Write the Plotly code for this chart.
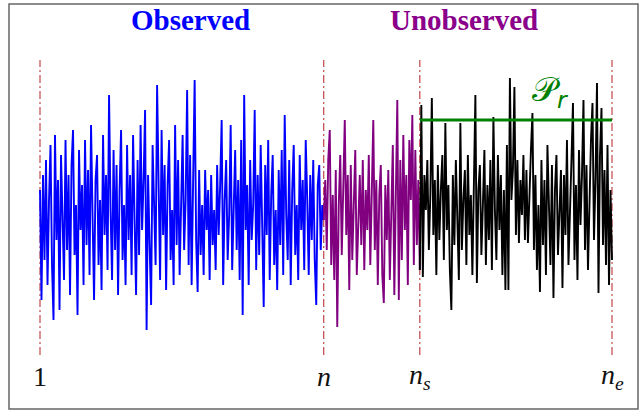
import plotly.graph_objects as go

# ---- data (arbitrary units) ----
blue = [
    0.6, -1.6, 0.9, -0.8, 1.2, -1.3, 0.4, 1.5, -0.9, -2.0,
    1.7, -0.4, 0.8, -1.8, 1.3, 0.2, -1.2, 1.6, -0.6, 0.9,
    -1.5, 1.1, 1.8, -0.7, 0.3, -1.9, 1.4, -0.2, 0.7, -1.3,
    1.6, -0.5, 1.0, -1.1, 1.9, 0.1, -1.6, 0.8, 1.3, -0.9,
    0.4, -1.4, 1.7, -0.3, 0.9, -1.0, 2.5, 0.2, -1.2, 1.4,
    -0.6, 1.1, -1.5, 0.6, 1.8, -0.8, 0.3, -1.3, 1.5, -0.4,
    0.9, -1.1, 1.7, 0.0, -1.5, 1.2, -0.7, 1.9, -0.2, 0.8,
    2.2, -2.2, 0.9, -0.5, -1.7, 1.5, 0.3, -0.9, 2.7, 0.6,
    -1.2, 1.8, -0.3, 1.1, -1.4, 0.7, 1.6, -0.8, 0.2, -1.3,
    1.9, -0.5, 1.2, -1.1, 0.6, 1.7, -0.6, 0.4, 2.6, -0.9,
    1.3, -1.3, 0.8, 2.8, -0.4, -1.44, 1.0, -0.7, 0.3, -1.1,
    1.0, -0.2, 0.6, -1.2, 0.9, -0.5, 0.2, -1.0, 1.1, -0.3,
    0.7, 2.0, -1.3, 0.4, 1.2, -0.8, 0.1, 1.9, -1.0, 0.5,
    1.4, -0.6, 0.8, -1.2, 1.6, -1.9, 2.5, -0.2, 0.7, -1.3,
    1.2, -0.4, 0.3, 2.2, -1.0, 0.9, -0.7, 1.5, 0.0, -1.74,
    1.1, -0.3, 1.6, -1.2, 0.5, 1.3, -0.9, 0.2, -1.4, 1.0,
    -0.5, 1.4, -1.1, 2.1, 0.1, -0.8, 1.2, -1.3, 0.6, 1.5,
    -0.7, 0.3, -1.2, 1.3, -0.2, 0.8, -1.0, 1.6, 0.4, -1.1,
    0.9, -0.4, 1.2, -0.8, -1.7, 0.7, 1.1, -0.6, 0.3, 0.0,
]
purple = [
    0.8, -0.6, 1.2, 1.8, -0.9, 0.5, -1.2, 1.0, -2.14, 0.3,
    1.3, -0.7, 0.6, 2.0, -0.3, 0.9, -1.4, 1.1, -0.8, 0.4,
    1.4, -1.1, 0.2, 0.9, -0.5, 1.2, -1.0, 0.6, -0.2, 1.3,
    -0.9, 0.4, 2.0, -0.6, 0.8, -1.3, 0.5, 1.1, -1.1, -1.66,
    0.7, -0.4, 1.0, -1.2, 0.3, 1.5, -1.5, 0.6, 2.4, -1.6,
    1.2, -0.8, 1.7, -0.2, 0.9, -1.3, 1.6, 0.4, 2.1, -0.9,
    1.4, -0.5, 0.8, -1.0,
]
black = [
    2.3, -1.14, 0.9, 0.2, 1.2, -0.6, 0.5, 2.44, -0.3, 0.8,
    -1.1, 1.1, -0.4, 0.6, 1.3, -0.8, 1.94, -0.2, 0.7, -1.0,
    -1.8, 0.9, -0.5, 1.2, 0.1, -1.2, 1.94, -0.6, 0.4, 1.0,
    -0.9, 1.3, -0.3, 0.5, -1.1, 0.8, 2.5, -1.26, 0.6, 1.1,
    -0.7, 0.3, 1.4, -0.9, 0.7, -0.4, 1.2, -1.0, 2.06, 0.2,
    -0.8, 1.3, -0.2, 0.9, -1.1, 0.6, -1.4, 1.5, -1.4, 2.84,
    0.4, 1.0, 2.66, -0.3, 1.2, -0.46, 0.8, 0.1, 1.3, -0.4,
    1.0, -0.46, 0.7, 1.4, 2.14, -0.6, 0.9, -1.0, 0.3, -1.44,
    1.2, -0.5, 0.8, -1.1, 1.5, 0.0, -0.9, 1.1, -1.56, 0.6,
    1.3, -0.7, 0.4, 1.0, -1.36, 0.9, -0.3, 1.6, -0.9, 0.5,
    1.2, 2.34, -0.8, 0.7, -1.2, 1.4, -0.1, 0.9, 2.4, -0.6,
    1.1, -1.0, 0.5, 1.6, 2.34, -0.4, 0.8, 2.74, -1.46, 1.3,
    2.24, -0.5, 1.0, -0.9, 1.5, -1.3, 0.6, -0.8,
]
tick_labels = ["1", "<i>n</i>", "<i>n<sub>s</sub></i>", "<i>n<sub>e</sub></i>"]
titles = ["Observed", "Unobserved"]
pr_level = 2.0
pr_label = "𝒫<sub><i>r</i></sub>"

# ---- indices ----
n = len(blue)
ns = n + len(purple)
ne = ns + len(black)
xb = list(range(1, n + 1))
xp = list(range(n, ns + 1))
yp = [blue[-1]] + purple
xk = list(range(ns, ne + 1))
yk = [purple[-1]] + black

W, H = 641, 411
px_first, px_last = 40, 612
scale = (px_last - px_first) / (ne - 1)
xr0 = 1 - px_first / scale
xr1 = xr0 + W / scale
yr0, yr1 = -3.82, 4.4

fig = go.Figure()
fig.add_trace(go.Scatter(x=xb, y=blue, mode="lines",
                         line=dict(color="#0000FF", width=1.9), hoverinfo="skip"))
fig.add_trace(go.Scatter(x=xp, y=yp, mode="lines",
                         line=dict(color="#800080", width=1.9), hoverinfo="skip"))
fig.add_trace(go.Scatter(x=xk, y=yk, mode="lines",
                         line=dict(color="#000000", width=1.9), hoverinfo="skip"))
fig.add_trace(go.Scatter(x=[ns, ne], y=[pr_level, pr_level], mode="lines",
                         line=dict(color="#008000", width=3), hoverinfo="skip"))

shapes = []
for xv in [1, n, ns, ne]:
    shapes.append(dict(type="line", xref="x", yref="y", x0=xv, x1=xv, y0=-2.7, y1=3.2,
                       line=dict(color="#B22222", width=1, dash="8px,3px,2px,3px"), layer="below"))
shapes.append(dict(type="rect", xref="paper", yref="paper",
                   x0=9 / W, x1=638 / W, y0=1 - 409 / H, y1=1 - 4 / H,
                   line=dict(color="#666666", width=1.5)))

annotations = []
for xv, lab in zip([1, n, ns, ne], tick_labels):
    annotations.append(dict(x=xv, y=-3.12, xref="x", yref="y", text=lab, showarrow=False,
                            xanchor="center", yanchor="middle",
                            font=dict(family="Liberation Serif, DejaVu Serif, serif", size=28, color="#111111")))
annotations.append(dict(x=190 / W, y=1 - 20 / H, xref="paper", yref="paper",
                        xanchor="center", yanchor="middle",
                        text="<b>" + titles[0] + "</b>", showarrow=False,
                        font=dict(family="Liberation Serif, serif", size=29, color="#0000FF")))
annotations.append(dict(x=464 / W, y=1 - 20 / H, xref="paper", yref="paper",
                        xanchor="center", yanchor="middle",
                        text="<b>" + titles[1] + "</b>", showarrow=False,
                        font=dict(family="Liberation Serif, serif", size=29, color="#8B008B")))
annotations.append(dict(x=550 / W, y=1 - 92 / H, xref="paper", yref="paper",
                        xanchor="center", yanchor="middle",
                        text=pr_label, showarrow=False,
                        font=dict(family="DejaVu Sans, Noto Sans, serif", size=34, color="#008000")))

fig.update_layout(
    width=W, height=H,
    margin=dict(l=0, r=0, t=0, b=0),
    paper_bgcolor="white", plot_bgcolor="white",
    showlegend=False,
    xaxis=dict(range=[xr0, xr1], visible=False, fixedrange=True),
    yaxis=dict(range=[yr0, yr1], visible=False, fixedrange=True),
    shapes=shapes, annotations=annotations,
)
fig.write_html("out.html", config={"displayModeBar": False},
               post_script="document.body.style.margin='0';document.body.style.overflow='hidden';")
